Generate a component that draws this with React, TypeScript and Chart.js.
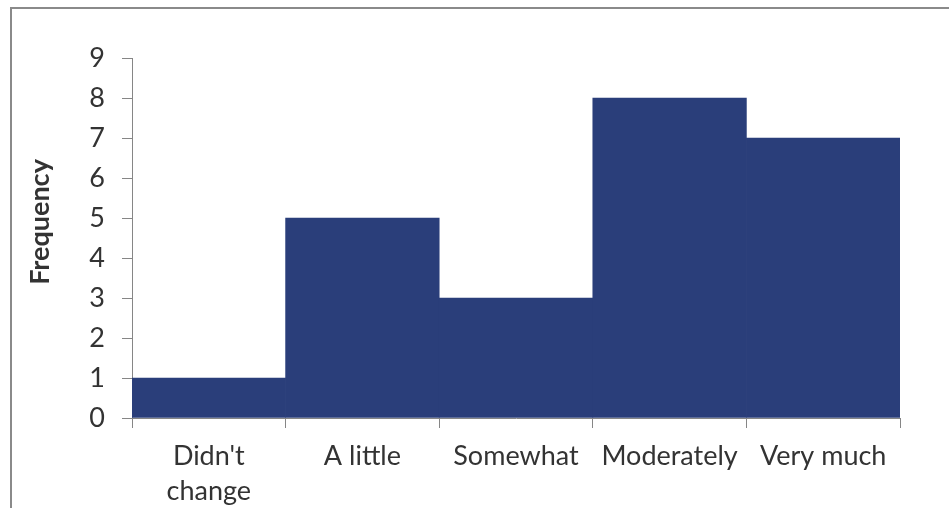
import { useEffect, useRef } from "react";
import { Chart, registerables } from "chart.js";

Chart.register(...registerables);

// Survey responses: how much things changed
const categories: (string | string[])[] = [["Didn't", "change"], "A little", "Somewhat", "Moderately", "Very much"];
const frequency = [1, 5, 3, 8, 7];
const yMin = 0;
const yMax = 9;
const yStep = 1;
const yTitle = "Frequency";

const FONT = "Lato, 'Open Sans', sans-serif";
const TEXT = "#333333";
const AXIS = "#868686";
const BAR = "#2A3E7A";

// Thin grey frame around the chart, running off the right and bottom edges
const framePlugin = {
  id: "frame",
  beforeDraw(chart: Chart) {
    const { ctx, width, height } = chart;
    ctx.save();
    ctx.strokeStyle = "#8a8a8a";
    ctx.lineWidth = 2;
    ctx.beginPath();
    ctx.moveTo(11, height);
    ctx.lineTo(11, 8);
    ctx.lineTo(width, 8);
    ctx.stroke();
    ctx.restore();
  },
};

// Vertical axis title, sitting a little above the plot's middle
const axisTitlePlugin = {
  id: "axisTitle",
  afterDraw(chart: Chart) {
    const { ctx, chartArea } = chart;
    ctx.save();
    ctx.translate(40, (chartArea.top + chartArea.bottom) / 2 - 16);
    ctx.rotate(-Math.PI / 2);
    ctx.fillStyle = TEXT;
    ctx.font = `bold 27px ${FONT}`;
    ctx.textAlign = "center";
    ctx.textBaseline = "middle";
    ctx.fillText(yTitle, 0, 0);
    ctx.restore();
  },
};

export default function App() {
  const canvasRef = useRef<HTMLCanvasElement | null>(null);

  useEffect(() => {
    const canvas = canvasRef.current;
    if (!canvas) return;
    const chart = new Chart(canvas, {
      type: "bar",
      data: {
        labels: categories,
        datasets: [
          {
            label: yTitle,
            data: frequency,
            backgroundColor: BAR,
            borderWidth: 0,
            categoryPercentage: 1,
            barPercentage: 1,
          },
        ],
      },
      options: {
        responsive: false,
        animation: false,
        layout: { padding: { top: 58, right: 49, left: 0, bottom: 0 } },
        plugins: {
          legend: { display: false },
          tooltip: { enabled: false },
        },
        scales: {
          x: {
            offset: true,
            grid: {
              display: true,
              offset: true,
              drawOnChartArea: false,
              drawTicks: true,
              tickLength: 10,
              color: AXIS,
            },
            border: { display: true, color: AXIS, width: 1 },
            ticks: {
              color: TEXT,
              font: { family: FONT, size: 27, lineHeight: 1.3 },
              padding: 11,
              maxRotation: 0,
              autoSkip: false,
            },
            afterFit(scale: any) {
              scale.height = 90;
            },
          },
          y: {
            min: yMin,
            max: yMax,
            grid: {
              display: true,
              drawOnChartArea: false,
              drawTicks: true,
              tickLength: 10,
              color: AXIS,
            },
            border: { display: true, color: AXIS, width: 1 },
            ticks: {
              stepSize: yStep,
              color: TEXT,
              font: { family: FONT, size: 27 },
              padding: 17,
            },
            afterFit(scale: any) {
              scale.width = 132;
            },
          },
        },
      },
      plugins: [framePlugin, axisTitlePlugin],
    });
    return () => chart.destroy();
  }, []);

  return (
    <div style={{ position: "fixed", left: 0, top: 0, width: 949, height: 508, background: "#fff" }}>
      <canvas ref={canvasRef} width={949} height={508} style={{ display: "block" }} />
    </div>
  );
}
